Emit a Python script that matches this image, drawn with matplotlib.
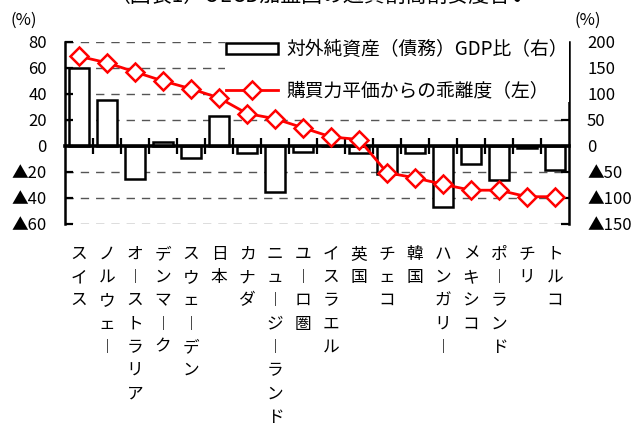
import matplotlib
matplotlib.use("Agg")
import matplotlib.pyplot as plt
import matplotlib.transforms as mtransforms
from matplotlib.patches import Patch
from matplotlib.lines import Line2D

plt.rcParams["font.family"] = ["Noto Sans CJK JP", "DejaVu Sans"]

# ── Data ──────────────────────────────────────────────────────────────────────
countries = ["スイス", "ノルウェー", "オーストラリア", "デンマーク", "スウェーデン",
             "日本", "カナダ", "ニュージーランド", "ユーロ圏", "イスラエル", "英国",
             "チェコ", "韓国", "ハンガリー", "メキシコ", "ポーランド", "チリ", "トルコ"]
# 購買力平価からの乖離度（左軸, %）
ppp_dev = [69, 64, 57, 50, 44, 37, 25, 21, 14, 7, 5,
           -20.5, -24.5, -29.5, -34, -34, -39, -39]
# 対外純資産（債務）GDP比（右軸, %）
niip = [150, 88, -64, 8, -24, 57, -14, -88, -12, 0, -14,
        -54, -14, -117, -35, -65, -4, -47]

left_ticks = [80, 60, 40, 20, 0, -20, -40, -60]
right_ticks = [200, 150, 100, 50, 0, -50, -100, -150]

title = "（図表1）OECD加盟国の通貨割高割安度合い"
bar_label = "対外純資産（債務）GDP比（右）"
line_label = "購買力平価からの乖離度（左）"

RED = "#FF0000"
FS = 12


def tick_fmt(v):
    return f"▲{-v}" if v < 0 else f"{v}"


def vertical(s):
    # 縦書き: 長音は縦棒に
    return "\n".join("︱" if c == "ー" else c for c in s)


# ── Figure ────────────────────────────────────────────────────────────────────
fig = plt.figure(figsize=(6.4, 4.29), dpi=100, facecolor="white")
rect = [65 / 640, 1 - 224 / 429, 504 / 640, 182 / 429]
ax2 = fig.add_axes(rect)                 # right scale (bars)
ax = fig.add_axes(rect, sharex=ax2)      # left scale (line), drawn on top
ax.patch.set_visible(False)

x = list(range(len(countries)))

# bars (right axis)
ax2.bar(x, niip, width=0.72, facecolor="white", edgecolor="black",
        linewidth=1.8, zorder=2)
ax2.set_ylim(-150, 200)
ax2.set_yticks(right_ticks)
ax2.set_yticklabels([tick_fmt(v) for v in right_ticks], fontsize=FS)
ax2.yaxis.tick_right()
ax2.tick_params(axis="y", direction="in", length=6, width=1.6, pad=13)
for v in right_ticks:
    if v != 0:
        ax2.axhline(v, color="#555555", lw=1.0, ls=(0, (6, 5)), zorder=1)
for s in ["top", "bottom", "left"]:
    ax2.spines[s].set_visible(False)
ax2.spines["right"].set_linewidth(1.8)
ax2.tick_params(axis="x", bottom=False, labelbottom=False)

# line (left axis)
ax.plot(x, ppp_dev, color=RED, lw=2.0, marker="D", markersize=9,
        markerfacecolor="white", markeredgecolor=RED, markeredgewidth=1.8,
        zorder=5)
ax.set_ylim(-60, 80)
ax.set_xlim(-0.5, len(countries) - 0.5)
ax.set_yticks(left_ticks)
ax.set_yticklabels([tick_fmt(v) for v in left_ticks], fontsize=FS)
ax.tick_params(axis="y", direction="in", length=6, width=1.6, pad=13)
for s in ["top", "right"]:
    ax.spines[s].set_visible(False)
ax.spines["left"].set_linewidth(1.8)
ax.spines["bottom"].set_position(("data", 0))
ax.spines["bottom"].set_linewidth(2.6)
ax.set_xticks([i + 0.5 for i in range(len(countries) - 1)])
ax.tick_params(axis="x", direction="inout", length=11, width=1.6,
               labelbottom=False)

# category labels (vertical)
trans = mtransforms.blended_transform_factory(ax.transData, ax.transAxes)
for i, name in enumerate(countries):
    ax.text(i, -0.12, vertical(name), transform=trans, ha="center", va="top",
            fontsize=FS, linespacing=1.48)

# legend (on the bar axes, so the red line passes over its white box)
handles = [Patch(facecolor="white", edgecolor="black", linewidth=1.8),
           Line2D([], [], color=RED, lw=2.0, marker="D", markersize=9,
                  markerfacecolor="white", markeredgecolor=RED,
                  markeredgewidth=1.8)]
leg = ax2.legend(handles, [bar_label, line_label], loc="upper right",
                 bbox_to_anchor=(1.0, 1.019), fontsize=13.5, frameon=True,
                 fancybox=False, framealpha=1, edgecolor="none",
                 handlelength=2.8, handleheight=0.5, handletextpad=0.45,
                 labelspacing=1.06, borderpad=0.05, borderaxespad=0.0)
leg.set_zorder(10)

# unit labels and (clipped) title
fig.text(24 / 640, 1 - 20 / 429, "(%)", ha="center", va="center", fontsize=FS)
fig.text(588 / 640, 1 - 20 / 429, "(%)", ha="center", va="center", fontsize=FS)
fig.text(0.5, 1 + 4 / 429, title, ha="center", va="center", fontsize=15)

fig.savefig("out.png", dpi=100, facecolor="white")
